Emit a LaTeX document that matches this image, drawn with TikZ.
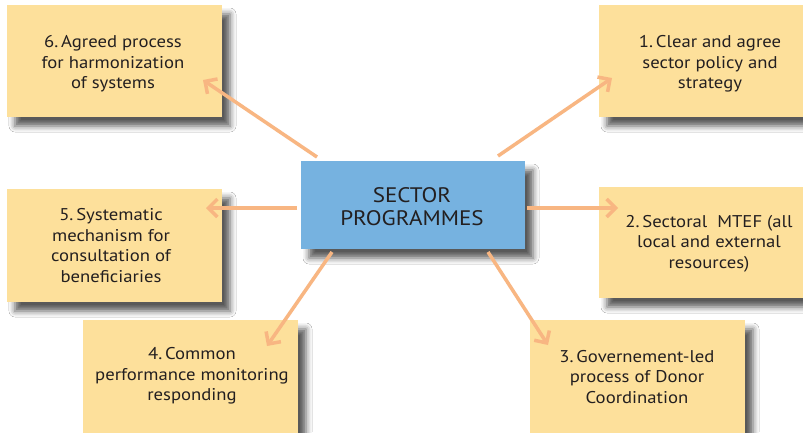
\documentclass[tikz,border=0pt]{standalone}
\usepackage{fontspec}
\setmainfont{PT Sans}[FakeStretch=1.1]
\usetikzlibrary{arrows.meta,shadows.blur}
\definecolor{boxyellow}{RGB}{253,224,155}
\definecolor{boxblue}{RGB}{118,178,224}
\definecolor{arrowc}{RGB}{248,182,130}
\definecolor{txt}{RGB}{35,31,32}
\begin{document}
\begin{tikzpicture}[x=1pt,y=-1pt,
  card/.style={fill=boxyellow, draw=none, inner sep=0pt,
    blur shadow={shadow xshift=8pt, shadow yshift=-9pt, shadow blur radius=6pt, shadow opacity=65}},
  hub/.style={fill=boxblue, draw=none, inner sep=0pt,
    blur shadow={shadow xshift=8pt, shadow yshift=-9pt, shadow blur radius=6pt, shadow opacity=65}},
  cardtext/.style={text=txt, align=center, inner sep=0pt, font=\fontsize{17}{20.5}\selectfont},
  hubtext/.style={text=txt, align=center, inner sep=0pt, font=\fontsize{21}{23}\selectfont},
  link/.style={draw=arrowc, line width=3.5pt, -{Straight Barb[length=9pt,width=18pt]}}
]
\useasboundingbox (0,0) rectangle (803,432);
\fill[white] (0,0) rectangle (803,432);

% boxes
\node[card, minimum width=215pt, minimum height=112pt] (b6) at (114.5,61) {};
\node[card, minimum width=215pt, minimum height=112pt] (b1) at (706.5,61) {};
\node[card, minimum width=215pt, minimum height=113pt] (b5) at (114.5,245.5) {};
\node[card, minimum width=215pt, minimum height=111pt] (b2) at (706.5,242.5) {};
\node[card, minimum width=215pt, minimum height=120pt] (b4) at (190.5,380) {};
\node[card, minimum width=215pt, minimum height=120pt] (b3) at (637.5,380) {};
\node[hub, minimum width=224pt, minimum height=88pt] (hubbox) at (413,205) {};

% texts
\node[cardtext] (t6) at (113,64) {6.\,Agreed process\\for harmonization\\of systems};
\node[cardtext] (t1) at (710,64) {1.\,Clear and agree\\sector policy and\\strategy};
\node[cardtext] (t5) at (111,245.5) {5.\,Systematic\\mechanism for\\consultation of\\beneficiaries};
\node[cardtext] (t2) at (709,243.5) {2.\,Sectoral\ \ MTEF (all\\local and external\\resources)};
\node[cardtext] (t4) at (192,376) {4.\,Common\\performance monitoring\\responding};
\node[cardtext] (t3) at (637,377) {3.\,Governement-led\\process of Donor\\Coordination};
\node[hubtext] (th) at (412,206.5) {SECTOR\\PROGRAMMES};

% arrow end points
\coordinate (s6) at (317,157); \coordinate (e6) at (203,80);
\coordinate (s1) at (498,156); \coordinate (e1) at (612,78);
\coordinate (s5) at (297,208); \coordinate (e5) at (206,208);
\coordinate (s2) at (527,208); \coordinate (e2) at (618,208);
\coordinate (s4) at (332,252); \coordinate (e4) at (267,346);
\coordinate (s3) at (488,252); \coordinate (e3) at (548,345);

\draw[link] (s6) -- (e6);
\draw[link] (s1) -- (e1);
\draw[link] (s5) -- (e5);
\draw[link] (s2) -- (e2);
\draw[link] (s4) -- (e4);
\draw[link] (s3) -- (e3);
\end{tikzpicture}
\end{document}
